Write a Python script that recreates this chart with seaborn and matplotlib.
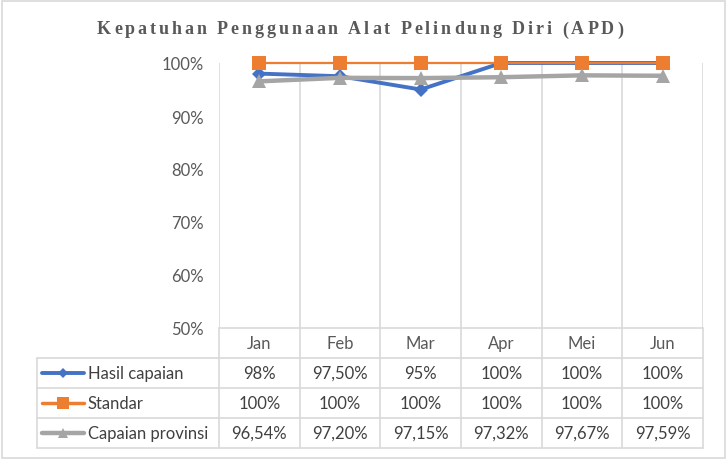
"""Kepatuhan APD line chart with an Excel-style data table underneath."""

import matplotlib
matplotlib.use("Agg")
import matplotlib.pyplot as plt
import numpy as np
import pandas as pd
import seaborn as sns

TITLE = "Kepatuhan Penggunaan Alat Pelindung Diri (APD)"
MONTHS = ["Jan", "Feb", "Mar", "Apr", "Mei", "Jun"]
SERIES = ["Hasil capaian", "Standar", "Capaian provinsi"]
HASIL = [98.0, 97.5, 95.0, 100.0, 100.0, 100.0]
STANDAR = [100.0, 100.0, 100.0, 100.0, 100.0, 100.0]
PROVINSI = [96.54, 97.20, 97.15, 97.32, 97.67, 97.59]
HASIL_LABELS = ["98%", "97,50%", "95%", "100%", "100%", "100%"]
STANDAR_LABELS = ["100%", "100%", "100%", "100%", "100%", "100%"]
PROVINSI_LABELS = ["96,54%", "97,20%", "97,15%", "97,32%", "97,67%", "97,59%"]
YTICKS = [50, 60, 70, 80, 90, 100]

COLORS = ["#4472C4", "#ED7D31", "#A5A5A5"]
MARKERS = ["D", "s", "^"]
MSIZES = [7, 10, 9.5]
LWIDTHS = [2.8, 1.6, 3.2]
GRID = "#D9D9D9"
TXT = "#595959"
FONT = "Lato"
FS = 12

W, H = 726, 460


def box(x0, y0, x1, y1):
    return [x0 / W, 1 - y1 / H, (x1 - x0) / W, (y1 - y0) / H]


sns.set_style("white")
plt.rcParams["font.family"] = [FONT, "DejaVu Sans"]

values = [HASIL, STANDAR, PROVINSI]
labels = [HASIL_LABELS, STANDAR_LABELS, PROVINSI_LABELS]
df = pd.DataFrame({
    "series": np.repeat(SERIES, len(MONTHS)),
    "pos": np.tile(np.arange(len(MONTHS)) + 0.5, len(SERIES)),
    "value": np.concatenate(values),
})

fig = plt.figure(figsize=(W / 100, H / 100), dpi=100)
fig.patches.append(plt.Rectangle((1.5 / W, 1.5 / H), (W - 3) / W, (H - 3) / H,
                                 transform=fig.transFigure, fill=False,
                                 edgecolor=GRID, lw=1.2))

# --- plot area ---
ax = fig.add_axes(box(219, 64, 703, 329))
for name, c, m, ms, lw in zip(SERIES, COLORS, MARKERS, MSIZES, LWIDTHS):
    sns.lineplot(data=df[df.series == name], x="pos", y="value", ax=ax,
                 color=c, marker=m, markersize=ms, markeredgewidth=0,
                 lw=lw, clip_on=False, legend=False)
ax.set_xlim(0, len(MONTHS))
ax.set_ylim(50, 100)
ax.set_xticks(np.arange(len(MONTHS) + 1))
ax.set_xticklabels([])
ax.set_yticks(YTICKS)
ax.set_yticklabels([f"{v}%" for v in YTICKS], color=TXT, fontsize=FS)
ax.tick_params(axis="both", length=0, pad=11)
ax.grid(axis="x", color=GRID, lw=1.2)
ax.grid(axis="y", visible=False)
ax.set_xlabel("")
ax.set_ylabel("")
for s in ax.spines.values():
    s.set_visible(False)

# --- data table ---
left = (37 - 219) / ((703 - 219) / len(MONTHS))
tab = fig.add_axes(box(37, 329, 703, 449))
tab.set_xlim(left, len(MONTHS))
tab.set_ylim(len(SERIES) + 1, 0)
tab.axis("off")
n = len(MONTHS)
kw = dict(color=GRID, lw=1.2, clip_on=False)
tab.plot([0, n], [0, 0], **kw)
for r in range(1, len(SERIES) + 2):
    tab.plot([left, n], [r, r], **kw)
for c in range(n + 1):
    tab.plot([c, c], [0, len(SERIES) + 1], **kw)
tab.plot([left, left], [1, len(SERIES) + 1], **kw)

for i, mth in enumerate(MONTHS):
    tab.text(i + 0.5, 0.5, mth, ha="center", va="center", color=TXT, fontsize=FS)

unit = (703 - 219) / n
key0, key1, keym, txt0 = [(p - 219) / unit for p in (42, 84, 63, 88)]
for r, (name, c, m, ms, lw, labs) in enumerate(
        zip(SERIES, COLORS, MARKERS, MSIZES, LWIDTHS, labels), start=1):
    tab.plot([key0, key1], [r + 0.5, r + 0.5], color=c, lw=max(lw, 2.5),
             solid_capstyle="round", clip_on=False)
    tab.plot([keym], [r + 0.5], color=c, marker=m, markersize=ms * 0.8,
             markeredgewidth=0, clip_on=False)
    tab.text(txt0, r + 0.5, name, ha="left", va="center", color="#404040",
             fontsize=FS)
    for i, lab in enumerate(labs):
        tab.text(i + 0.5, r + 0.5, lab, ha="center", va="center",
                 color="#404040", fontsize=FS)

# --- letter-spaced title ---
renderer = fig.canvas.get_renderer()
tkw = dict(family="Liberation Serif", weight="bold", fontsize=13)


def width(s):
    t = fig.text(0, 0, s, **tkw)
    w = t.get_window_extent(renderer).width
    t.remove()
    return w


bar = width("||")
widths = [width("|" + ch + "|") - bar for ch in TITLE]
x0_px, x1_px = 97, 623
extra = (x1_px - x0_px - sum(widths)) / (len(TITLE) - 1)
x = x0_px
for ch, w in zip(TITLE, widths):
    fig.text(x / W, 1 - 30 / H, ch, color=TXT, ha="left", va="center", **tkw)
    x += w + extra

fig.savefig("out.png", dpi=100)
